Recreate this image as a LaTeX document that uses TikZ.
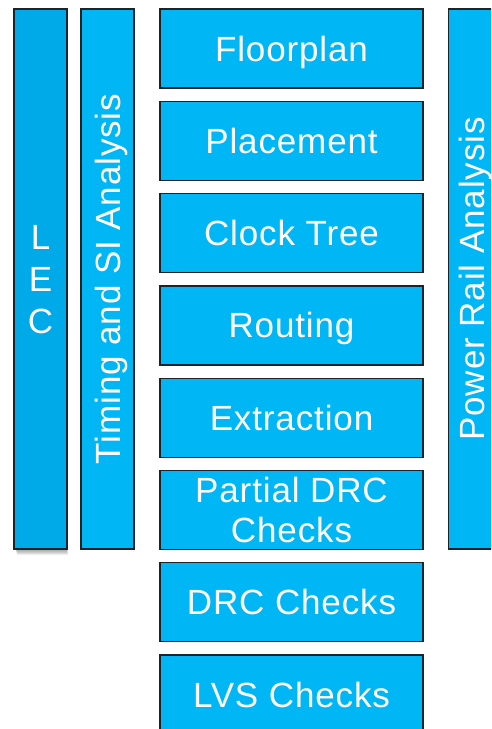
\documentclass[tikz,border=0pt]{standalone}
\usepackage{fontspec}
\setmainfont{Liberation Sans}[LetterSpace=2.5]
\usepackage{xcolor}

\definecolor{flowblue}{RGB}{0,182,245}
\definecolor{lecblue}{RGB}{0,170,232}
\definecolor{edgegray}{RGB}{30,35,40}

\tikzset{
  labelfont/.style={font=\fontsize{35}{40}\selectfont},
  stagebox/.style={draw=edgegray, line width=1.3pt, fill=flowblue, text=white,
    minimum width=263pt, minimum height=79pt, inner sep=0pt, align=center,
    labelfont, text height=25pt, text depth=0pt},
  sidebar/.style={draw=edgegray, line width=1.3pt, fill=flowblue, text=white,
    minimum width=53pt, minimum height=540pt, inner sep=0pt,
    font=\fontsize{35}{42}\selectfont},
  sidelabel/.style={rotate=90, text=white, labelfont, text height=25pt, text depth=0pt}
}

\begin{document}
\begin{tikzpicture}[x=1pt, y=-1pt]
\useasboundingbox (0,0) rectangle (491,729);
\clip (0,0) rectangle (491,729);

% soft shadow under the LEC bar
\foreach \s in {1,...,6}
  \fill[black, opacity=0.07] (15+0.3*\s,13+\s) rectangle (67+0.1*\s,549+\s);

% equivalence check bar
\node[sidebar, fill=lecblue, align=center, text height=109pt, text depth=0pt]
  (lec) at (40.5,279) {L\\E\\C};

% timing / signal integrity bar
\node[sidebar] (timing) at (107.5,279) {};
\node[sidelabel] (timinglabel) at (timing.center) {Timing and SI Analysis};

% implementation stages, top to bottom (third field: text block height)
\foreach \nm/\txt/\th [count=\i from 0] in {floorplan/Floorplan/25, placement/Placement/25,
    clocktree/Clock Tree/25, routing/Routing/25, extraction/Extraction/25,
    partialdrc/{Partial DRC\\Checks}/65, drc/DRC Checks/25, lvs/LVS Checks/25} {
  \node[stagebox, text height=\th pt] (\nm) at (291.5,48.5+92.3*\i) {\txt};
}

% power rail bar on the right
\node[sidebar] (powerrail) at (475,279) {};
\node[sidelabel] (powerlabel) at (472,279) {Power Rail Analysis};
\end{tikzpicture}
\end{document}
